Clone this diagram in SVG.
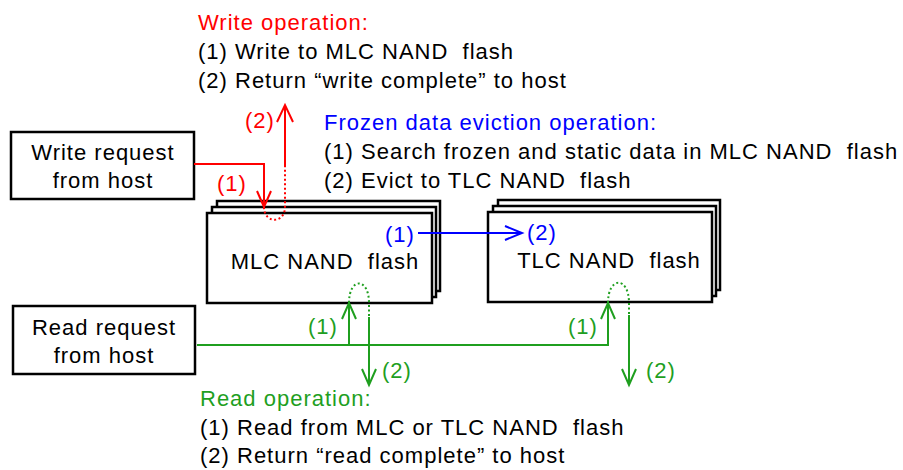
<svg xmlns="http://www.w3.org/2000/svg" width="903" height="470" viewBox="0 0 903 470">
<style>
text{font-family:"Liberation Sans",Arial,sans-serif;font-size:22px;letter-spacing:1px;fill:#000;white-space:pre}
.r{fill:#ff0000}.b{fill:#0000ff}.g{fill:#1f9f1f}
.box{fill:#fff;stroke:#000;stroke-width:2.5}
.mid{text-anchor:middle}
.lr{fill:none;stroke:#ff0000;stroke-width:2}
.lb{fill:none;stroke:#0000ff;stroke-width:2}
.lg{fill:none;stroke:#1f9f1f;stroke-width:2}
.dot{stroke-dasharray:2 2.5}
</style>
<rect width="903" height="470" fill="#fff"/>

<g id="write-op-text">
<text x="198" y="30" class="r">Write operation:</text>
<text x="198" y="59">(1) Write to MLC NAND  flash</text>
<text x="198" y="88">(2) Return “write complete” to host</text>
</g>
<g id="frozen-op-text">
<text x="324" y="130" class="b">Frozen data eviction operation:</text>
<text x="324" y="159">(1) Search frozen and static data in MLC NAND  flash</text>
<text x="324" y="188">(2) Evict to TLC NAND  flash</text>
</g>
<g id="read-op-text">
<text x="200" y="406" class="g">Read operation:</text>
<text x="200" y="435">(1) Read from MLC or TLC NAND  flash</text>
<text x="200" y="463">(2) Return “read complete” to host</text>
</g>

<g id="write-request">
<rect x="11" y="132" width="183" height="67" class="box"/>
<text x="103" y="160" class="mid">Write request</text>
<text x="103" y="188" class="mid">from host</text>
</g>
<g id="read-request">
<rect x="13" y="306" width="182" height="68" class="box"/>
<text x="104" y="335" class="mid">Read request</text>
<text x="104" y="363" class="mid">from host</text>
</g>

<g id="mlc">
<rect x="217" y="201" width="223" height="90" class="box"/>
<rect x="212" y="207" width="224" height="90" class="box"/>
<rect x="207" y="213" width="225" height="90" class="box"/>
<text x="325" y="269" class="mid">MLC NAND  flash</text>
</g>
<g id="tlc">
<rect x="498" y="200" width="222" height="90" class="box"/>
<rect x="493" y="206" width="223" height="90" class="box"/>
<rect x="488" y="212" width="224" height="90" class="box"/>
<text x="609" y="268" class="mid">TLC NAND  flash</text>
</g>

<g id="connectors">
<path d="M194,164 H264 V207" class="lr"/>
<path d="M257,191 L264,207 L271,191" class="lr"/>
<path d="M264,207 C264,224 285,224 285,207 V167" class="lr dot"/>
<path d="M285,167 V105" class="lr"/>
<path d="M277,122 L285,105 L293,122" class="lr"/>
<text x="217" y="191" class="r">(1)</text>
<text x="245" y="128" class="r">(2)</text>
<path d="M418,233 H522" class="lb"/>
<path d="M505,226 L522,233 L505,240" class="lb"/>
<text x="385" y="242" class="b">(1)</text>
<text x="527" y="240" class="b">(2)</text>
<path d="M197,345 H608 V303" class="lg"/>
<path d="M349,345 V303" class="lg"/>
<path d="M342,319 L349,303 L356,319" class="lg"/>
<path d="M601,319 L608,303 L615,319" class="lg"/>
<path d="M349,303 C349,277 369,277 369,303 V317" class="lg dot"/>
<path d="M369,317 V385" class="lg"/>
<path d="M362,369 L369,385 L376,369" class="lg"/>
<path d="M608,303 C608,276 629,276 629,303 V315" class="lg dot"/>
<path d="M629,315 V385" class="lg"/>
<path d="M622,369 L629,385 L636,369" class="lg"/>
<text x="308" y="334" class="g">(1)</text>
<text x="382" y="378" class="g">(2)</text>
<text x="568" y="334" class="g">(1)</text>
<text x="646" y="378" class="g">(2)</text>
</g>
</svg>
